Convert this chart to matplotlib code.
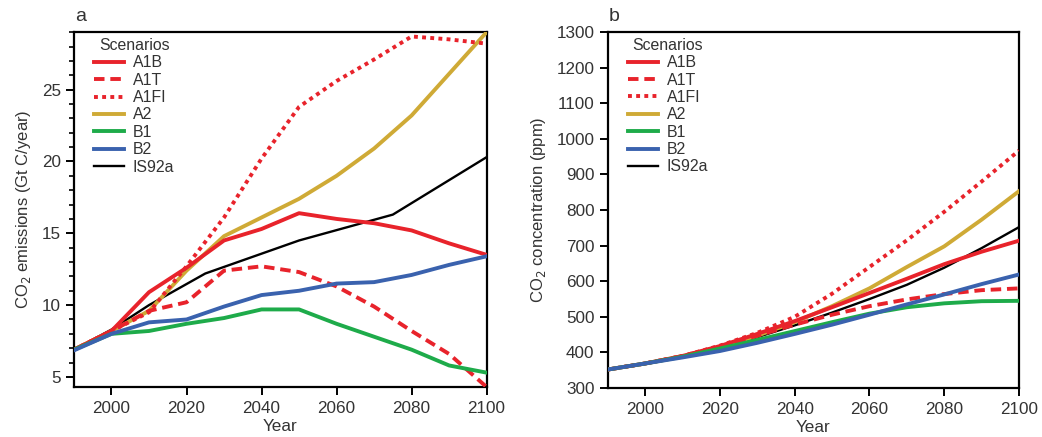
import matplotlib
matplotlib.use("Agg")
import matplotlib.pyplot as plt
from matplotlib.ticker import MultipleLocator

plt.rcParams['font.family'] = ['Arial', 'Liberation Sans', 'DejaVu Sans']

# ---- Data: CO2 emissions (Gt C/year) ----
em_years = [1990, 2000, 2010, 2020, 2030, 2040, 2050, 2060, 2070, 2080, 2090, 2100]
em_A1B  = [6.9, 8.2, 10.9, 12.6, 14.5, 15.3, 16.4, 16.0, 15.7, 15.2, 14.3, 13.5]
em_A1T  = [6.9, 8.2, 9.6, 10.2, 12.4, 12.7, 12.3, 11.3, 9.9, 8.2, 6.6, 4.3]
em_A1FI = [6.9, 8.2, 9.5, 12.7, 16.1, 20.2, 23.8, 25.6, 27.1, 28.7, 28.5, 28.2]
em_A2   = [6.9, 8.2, 9.6, 12.4, 14.8, 16.1, 17.4, 19.0, 20.9, 23.2, 26.1, 29.0]
em_B1   = [6.9, 8.0, 8.2, 8.7, 9.1, 9.7, 9.7, 8.7, 7.8, 6.9, 5.8, 5.3]
em_B2   = [6.85, 8.0, 8.8, 9.0, 9.9, 10.7, 11.0, 11.5, 11.6, 12.1, 12.8, 13.4]
is92_years = [1990, 2000, 2010, 2025, 2050, 2075, 2100]
em_IS92a = [6.9, 8.3, 10.0, 12.2, 14.5, 16.3, 20.3]

# ---- Data: CO2 concentration (ppm) ----
co_years = [1990, 2000, 2010, 2020, 2030, 2040, 2050, 2060, 2070, 2080, 2090, 2100]
co_A1B  = [352, 369, 390, 418, 452, 488, 527, 567, 607, 648, 683, 714]
co_A1T  = [352, 369, 390, 416, 447, 478, 506, 530, 549, 564, 575, 580]
co_A1FI = [352, 369, 390, 419, 455, 500, 565, 640, 715, 795, 880, 967]
co_A2   = [352, 369, 389, 414, 447, 485, 530, 580, 640, 698, 773, 853]
co_B1   = [352, 369, 388, 411, 435, 460, 485, 509, 527, 538, 544, 545]
co_B2   = [352, 369, 386, 404, 427, 452, 478, 506, 535, 563, 592, 619]
co_IS92a = [352, 368, 387, 410, 443, 476, 512, 550, 590, 638, 693, 752]

scen_names = ['A1B', 'A1T', 'A1FI', 'A2', 'B1', 'B2', 'IS92a']

RED = '#e8232b'
GOLD = '#cfaa36'
GREEN = '#1eab4a'
BLUE = '#3a62ae'
TXT = '#333333'

LW = 2.8
styles = {
    'A1B':  dict(color=RED, lw=LW, ls='-'),
    'A1T':  dict(color=RED, lw=LW, ls=(0, (2.7, 1.5))),
    'A1FI': dict(color=RED, lw=LW, ls=(0, (1.0, 1.1))),
    'A2':   dict(color=GOLD, lw=LW, ls='-'),
    'B1':   dict(color=GREEN, lw=LW, ls='-'),
    'B2':   dict(color=BLUE, lw=LW, ls='-'),
    'IS92a': dict(color='black', lw=1.7, ls='-'),
}

fig = plt.figure(figsize=(10.42, 4.37), dpi=100)
axa = fig.add_axes([0.071, 0.1144, 0.396, 0.812])
axb = fig.add_axes([0.5832, 0.112, 0.3947, 0.8146])

em = {'A1B': em_A1B, 'A1T': em_A1T, 'A1FI': em_A1FI, 'A2': em_A2,
      'B1': em_B1, 'B2': em_B2}
co = {'A1B': co_A1B, 'A1T': co_A1T, 'A1FI': co_A1FI, 'A2': co_A2,
      'B1': co_B1, 'B2': co_B2, 'IS92a': co_IS92a}

zorders = {'IS92a': 3, 'A2': 4, 'A1FI': 5, 'A1T': 6, 'A1B': 7, 'B1': 8, 'B2': 9}

handles_a = {}
for name in scen_names:
    if name == 'IS92a':
        h, = axa.plot(is92_years, em_IS92a, label=name, zorder=zorders[name],
                      **styles[name])
    else:
        h, = axa.plot(em_years, em[name], label=name, zorder=zorders[name],
                      solid_joinstyle='round', **styles[name])
    handles_a[name] = h
handles_b = {}
for name in scen_names:
    h, = axb.plot(co_years, co[name], label=name, zorder=zorders[name],
                  **styles[name])
    handles_b[name] = h

FS = 12.3
for ax, hd in ((axa, handles_a), (axb, handles_b)):
    ax.set_xlim(1990, 2100)
    ax.set_xticks([2000, 2020, 2040, 2060, 2080, 2100])
    for sp in ax.spines.values():
        sp.set_linewidth(1.6)
        sp.set_color('black')
    ax.tick_params(axis='both', which='major', direction='out', length=6,
                   width=1.4, labelsize=FS, labelcolor=TXT)
    ax.tick_params(axis='y', which='major', pad=3.5)
    ax.tick_params(axis='x', which='major', pad=4)
    ax.tick_params(axis='both', which='minor', direction='out', length=3.5,
                   width=1.2)
    ax.set_xlabel('Year', fontsize=FS, color=TXT, labelpad=2.5)
    leg = ax.legend([hd[n] for n in scen_names],
                    scen_names, title='Scenarios', loc='upper left',
                    bbox_to_anchor=(0.022, 1.015), frameon=False, fontsize=11.4,
                    title_fontsize=11.4, handlelength=1.9, handletextpad=0.55,
                    labelspacing=0.15, borderpad=0.2)
    for t in leg.get_texts():
        t.set_color(TXT)
    leg.get_title().set_color(TXT)

axa.set_ylim(4.3, 29)
axa.yaxis.set_major_locator(MultipleLocator(5))
axa.yaxis.set_minor_locator(MultipleLocator(1))
axa.set_ylabel('CO$_2$ emissions (Gt C/year)', fontsize=12, color=TXT, labelpad=6)

axb.set_ylim(300, 1300)
axb.yaxis.set_major_locator(MultipleLocator(100))
axb.set_ylabel('CO$_2$ concentration (ppm)', fontsize=12, color=TXT, labelpad=6)

axa.text(0.003, 1.02, 'a', transform=axa.transAxes, fontsize=14, color=TXT,
         ha='left', va='bottom')
axb.text(0.003, 1.02, 'b', transform=axb.transAxes, fontsize=14, color=TXT,
         ha='left', va='bottom')

fig.savefig('out.png', dpi=100)
